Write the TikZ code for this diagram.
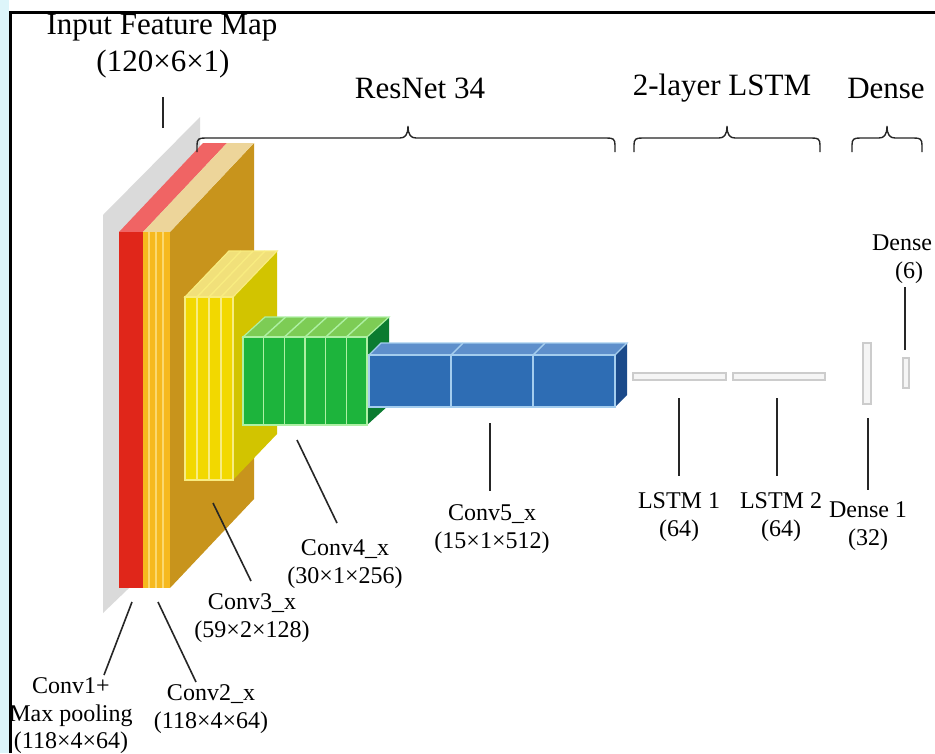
\documentclass[tikz,border=0pt]{standalone}
\usepackage{fontspec}
\setmainfont{Liberation Serif}
\usepackage{xcolor}

\definecolor{inputgrey}{HTML}{DADADA}
\definecolor{redfront}{HTML}{E0261A}
\definecolor{redtop}{HTML}{F06464}
\definecolor{ambfront}{HTML}{F6B91E}
\definecolor{ambline}{HTML}{FBD86E}
\definecolor{ambtop}{HTML}{EDD59A}
\definecolor{ambside}{HTML}{C8941C}
\definecolor{yelfront}{HTML}{F2D800}
\definecolor{yelline}{HTML}{F8EC80}
\definecolor{yeltop}{HTML}{F1E07A}
\definecolor{yelside}{HTML}{D2C400}
\definecolor{grnfront}{HTML}{1DB43C}
\definecolor{grnline}{HTML}{AEF0A4}
\definecolor{grntop}{HTML}{7DCC55}
\definecolor{grnside}{HTML}{0B7B30}
\definecolor{blufront}{HTML}{2E6DB4}
\definecolor{bluline}{HTML}{A4CDEE}
\definecolor{blutop}{HTML}{5E8FCB}
\definecolor{bluside}{HTML}{1B4A8A}
\definecolor{margincyan}{HTML}{DDF5FA}

\tikzset{
	bracelabel/.style={font=\fontsize{31}{34}\selectfont, inner sep=0pt},
	layerlabel/.style={font=\fontsize{24}{27.5}\selectfont, align=center, inner sep=0pt},
	leader/.style={line width=1.6pt, draw=black!85},
	layerbrace/.style={line width=1.4pt, draw=black!85},
	fcbar/.style={fill=black!4, draw=black!20, line width=1.5pt},
}

% curly brace over a group of layers: left end, tip, right end
\newcommand{\groupbrace}[3]{%
	\draw[layerbrace] (#1,152) -- (#1,145) .. controls (#1,139) and (#1+2,138) .. (#1+8,138)
		-- (#2-8,138) .. controls (#2-3,138) and (#2,135) .. (#2,126)
		.. controls (#2,135) and (#2+3,138) .. (#2+8,138)
		-- (#3-8,138) .. controls (#3-2,138) and (#3,139) .. (#3,145) -- (#3,152);}

\begin{document}
\begin{tikzpicture}[x=1pt, y=-1pt]
	\useasboundingbox (0,0) rectangle (935,753);
	\fill[white] (0,0) rectangle (935,753);
	\fill[margincyan] (0,0) rectangle (9,753);
	\draw[line width=3pt] (10,753) -- (10,12) -- (935,12);

	% input feature map
	\fill[inputgrey] (103,215) -- (200,117) -- (200,520) -- (103,613) -- cycle;

	% conv1 + max pooling
	\fill[redtop] (119,232) -- (143,232) -- ++(84,-89) -- (203,143) -- cycle;
	\fill[redfront] (119,232) rectangle (143,588);

	% conv2_x
	\fill[ambside] (170,232) -- ++(84,-89) -- ++(0,356) -- (170,588) -- cycle;
	\fill[ambtop] (143,232) -- (170,232) -- ++(84,-89) -- (227,143) -- cycle;
	\fill[ambfront] (143,232) rectangle (170,588);
	\foreach \x in {149,156,163}
		\draw[ambline, line width=1.4pt] (\x,232) -- (\x,588);

	% conv3_x
	\fill[yelside] (233,297) -- ++(44,-46) -- ++(0,183) -- (233,480) -- cycle;
	\filldraw[yeltop, draw=yelline, line width=1.2pt] (185,297) -- (233,297) -- ++(44,-46) -- (229,251) -- cycle;
	\filldraw[yelfront, draw=yelline, line width=1.2pt] (185,297) rectangle (233,480);
	\foreach \x in {197,209,221} {
		\draw[yelline, line width=1.4pt] (\x,297) -- (\x,480);
		\draw[yelline, line width=1.4pt] (\x,297) -- ++(44,-46);
	}

	% conv4_x
	\fill[grnside] (367,337) -- ++(22,-20) -- ++(0,88) -- ++(-22,20) -- cycle;
	\filldraw[grntop, draw=grnline, line width=1.2pt] (243,337) -- (367,337) -- ++(22,-20) -- (265,317) -- cycle;
	\filldraw[grnfront, draw=grnline, line width=1.2pt] (243,337) rectangle (367,425);
	\foreach \i in {1,...,5} {
		\draw[grnline, line width=1.4pt] ({243+\i*20.67},337) -- ++(0,88);
		\draw[grnline, line width=1.4pt] ({243+\i*20.67},337) -- ++(22,-20);
	}

	% conv5_x
	\fill[bluside] (615,355) -- ++(12,-12) -- ++(0,52) -- ++(-12,12) -- cycle;
	\filldraw[blutop, draw=bluline, line width=1.2pt] (369,355) -- (615,355) -- ++(12,-12) -- (381,343) -- cycle;
	\filldraw[blufront, draw=bluline, line width=1.2pt] (369,355) rectangle (615,407);
	\foreach \i in {1,2} {
		\draw[bluline, line width=1.4pt] ({369+\i*82},355) -- ++(0,52);
		\draw[bluline, line width=1.4pt] ({369+\i*82},355) -- ++(12,-12);
	}

	% lstm and dense layers
	\draw[fcbar] (633,373) rectangle (726,380);
	\draw[fcbar] (733,373) rectangle (825,380);
	\draw[fcbar] (863,343) rectangle (871,404);
	\draw[fcbar] (903,358) rectangle (909,388);

	% group braces
	\groupbrace{197}{408}{615}
	\groupbrace{634}{727}{820}
	\groupbrace{852}{887}{922}

	\node[bracelabel] (lblinput) at (162,28) {Input Feature Map};
	\node[bracelabel] (lblinputsize) at (163,64) {(120×6×1)};
	\node[bracelabel] (lblresnet) at (420,88) {ResNet 34};
	\node[bracelabel] (lbllstm) at (722,88) {2-layer LSTM};
	\node[bracelabel] (lbldense) at (886,88) {Dense};

	\node[layerlabel] (lblconv1) at (71,716) {Conv1+\\Max pooling\\(118×4×64)};
	\node[layerlabel] (lblconv2) at (211,709) {Conv2\_x\\(118×4×64)};
	\node[layerlabel] (lblconv3) at (252,618) {Conv3\_x\\(59×2×128)};
	\node[layerlabel] (lblconv4) at (345,564) {Conv4\_x\\(30×1×256)};
	\node[layerlabel] (lblconv5) at (492,529) {Conv5\_x\\(15×1×512)};
	\node[layerlabel] (lbllstma) at (679,517) {LSTM 1\\(64)};
	\node[layerlabel] (lbllstmb) at (781,517) {LSTM 2\\(64)};
	\node[layerlabel] (lbldensea) at (868,526) {Dense 1\\(32)};
	\node[layerlabel] (lbldenseb) at (902,259) {Dense\\\hspace*{14pt}(6)};

	% leader lines
	\coordinate (inputtip) at (163,128);
	\coordinate (inputend) at (163,97);
	\coordinate (conv1tip) at (132,602);
	\coordinate (conv1end) at (104,675);
	\coordinate (conv2tip) at (158,602);
	\coordinate (conv2end) at (196,682);
	\coordinate (conv3tip) at (213,503);
	\coordinate (conv3end) at (251,581);
	\coordinate (conv4tip) at (297,440);
	\coordinate (conv4end) at (337,523);
	\coordinate (conv5tip) at (490,423);
	\coordinate (conv5end) at (490,491);
	\coordinate (lstmatip) at (679,398);
	\coordinate (lstmaend) at (679,476);
	\coordinate (lstmbtip) at (777,398);
	\coordinate (lstmbend) at (777,476);
	\coordinate (denseatip) at (868,418);
	\coordinate (denseaend) at (868,490);
	\coordinate (densebtip) at (905,350);
	\coordinate (densebend) at (905,287);
	\foreach \n in {input,conv1,conv2,conv3,conv4,conv5,lstma,lstmb,densea,denseb}
		\draw[leader] (\n tip) -- (\n end);
\end{tikzpicture}
\end{document}
